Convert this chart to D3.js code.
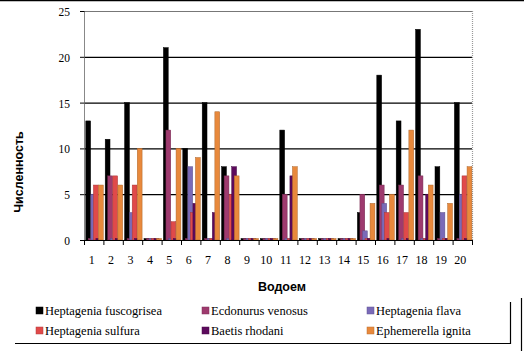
<!DOCTYPE html>
<html><head><meta charset="utf-8">
<script src="https://cdn.jsdelivr.net/npm/d3@7"></script>
<style>body{margin:0;background:#fff}svg{display:block}</style>
</head><body><svg id="c" width="524" height="351"></svg>
<script>
const categories = ["1","2","3","4","5","6","7","8","9","10","11","12","13","14","15","16","17","18","19","20"];
const seriesNames = ["Heptagenia fuscogrisea","Ecdonurus venosus","Heptagenia flava","Heptagenia sulfura","Baetis rhodani","Ephemerella ignita"];
const fuscogrisea = [13,11,15,0,21,10,15,8,0,0,12,0,0,0,3,18,13,23,8,15];
const venosus     = [0,7,0,0,12,0,0,7,0,0,5,0,0,0,5,6,6,7,0,0];
const flava       = [5,0,3,0,0,8,0,0,0,0,0,0,0,0,1,4,0,0,3,5];
const sulfura     = [6,7,6,0,2,3,0,5,0,0,0,0,0,0,0,3,3,0,0,7];
const rhodani     = [0,0,0,0,0,4,3,8,0,0,7,0,0,0,0,0,0,5,0,0];
const ignita      = [6,6,10,0,10,9,14,7,0,0,8,0,0,0,4,5,12,6,4,8];
const yTicks = [0,5,10,15,20,25];
const colors = ["#000000","#9e3a6e","#7a6ab8","#e04a4a","#5c0a5c","#e8893c"];
const seriesValues = [fuscogrisea, venosus, flava, sulfura, rhodani, ignita];
const SERIF = "'Liberation Serif', 'Times New Roman', serif";
const SANS = "'Liberation Sans', Arial, sans-serif";

const svg = d3.select("#c");
const x = d3.scaleBand().domain(categories).range([84, 472]).padding(0);
const y = d3.scaleLinear().domain([0,25]).range([240, 11]);
const gw = x.bandwidth();
const x1 = d3.scaleBand().domain(d3.range(6)).range([1.8, gw - 2.4]).padding(0);
const bw = x1.bandwidth() * 1.9;

// gridlines
svg.append("g").selectAll("line").data(yTicks.filter(t => t>0 && t<25)).join("line")
  .attr("x1", 84).attr("x2", 472).attr("y1", d => y(d)+0.5).attr("y2", d => y(d)+0.5)
  .attr("stroke", "#000").attr("stroke-width", 1.2);
// plot border
svg.append("line").attr("x1",84).attr("x2",472.5).attr("y1",y(25)+0.5).attr("y2",y(25)+0.5).attr("stroke","#777").attr("stroke-width",1);
svg.append("line").attr("x1",472.5).attr("x2",472.5).attr("y1",y(25)).attr("y2",240).attr("stroke","#999").attr("stroke-dasharray","1,1").attr("stroke-width",1.2);

// bars
const bars = svg.append("g");
seriesValues.forEach((vals, si) => {
  bars.selectAll(".s"+si).data(vals).join("rect")
    .attr("x", (d,i) => x(categories[i]) + x1(si))
    .attr("width", bw)
    .attr("y", d => d > 0 ? y(d) : 238.5)
    .attr("height", d => d > 0 ? 240 - y(d) : 1.5)
    .attr("fill", colors[si])
    .attr("stroke", d3.color(colors[si]).darker(0.8))
    .attr("stroke-width", 0.5);
});

// y axis
svg.append("line").attr("x1",84.5).attr("x2",84.5).attr("y1",y(25)).attr("y2",240).attr("stroke","#888").attr("stroke-width",1);
svg.append("g").selectAll("line").data(yTicks).join("line")
  .attr("x1",80).attr("x2",84.5).attr("y1",d=>y(d)+0.5).attr("y2",d=>y(d)+0.5).attr("stroke","#000");
svg.append("g").selectAll("text").data(yTicks).join("text")
  .attr("x", 70).attr("y", d => y(d)+1).attr("dy","0.35em").attr("text-anchor","end")
  .style("font-family", SERIF).attr("font-size",11.5).text(d => d);

// x axis
svg.append("line").attr("x1",84).attr("x2",472.5).attr("y1",240.5).attr("y2",240.5).attr("stroke","#000").attr("stroke-width",1.2);
svg.append("g").selectAll("line").data(categories.concat(["end"])).join("line")
  .attr("x1", (d,i) => 84 + i*gw + 0.5).attr("x2", (d,i) => 84 + i*gw + 0.5)
  .attr("y1", 240).attr("y2", 245).attr("stroke","#000");
svg.append("g").selectAll("text").data(categories).join("text")
  .attr("x", d => x(d) + gw/2 - 2).attr("y", 264).attr("text-anchor","middle")
  .style("font-family", SERIF).attr("font-size",12).text(d => d);

// titles
svg.append("text").attr("x",282).attr("y",291).attr("text-anchor","middle")
  .style("font-family", SANS).attr("font-size",12.5).attr("font-weight","bold").text("Водоем");
svg.append("text").attr("transform","translate(23,172) rotate(-90)").attr("text-anchor","middle")
  .style("font-family", SANS).attr("font-size",12.5).attr("font-weight","bold").text("Численность");

// legend
const legX = [36, 202, 367], legY = [313, 333];
const leg = svg.append("g");
seriesNames.forEach((n, i) => {
  const cx = legX[i % 3], cy = legY[Math.floor(i / 3)];
  leg.append("rect").attr("x", cx).attr("y", cy - 6).attr("width", 7).attr("height", 7)
    .attr("fill", colors[i]).attr("stroke", d3.color(colors[i]).darker(0.6)).attr("stroke-width",0.5);
  leg.append("text").attr("x", cx + 9).attr("y", cy + 2)
    .style("font-family", SERIF).attr("font-size",12.5).text(n);
});
svg.append("line").attr("x1",15).attr("x2",511).attr("y1",343.5).attr("y2",343.5).attr("stroke","#000").attr("stroke-width",1.2);
svg.append("line").attr("x1",510.5).attr("x2",510.5).attr("y1",302).attr("y2",344).attr("stroke","#000").attr("stroke-width",1.2);

// outer frame
svg.append("line").attr("x1",0).attr("x2",524).attr("y1",0.5).attr("y2",0.5).attr("stroke","#000").attr("stroke-width",1.5);
svg.append("line").attr("x1",521.5).attr("x2",521.5).attr("y1",298).attr("y2",351).attr("stroke","#000").attr("stroke-width",1.2);
</script></body></html>
